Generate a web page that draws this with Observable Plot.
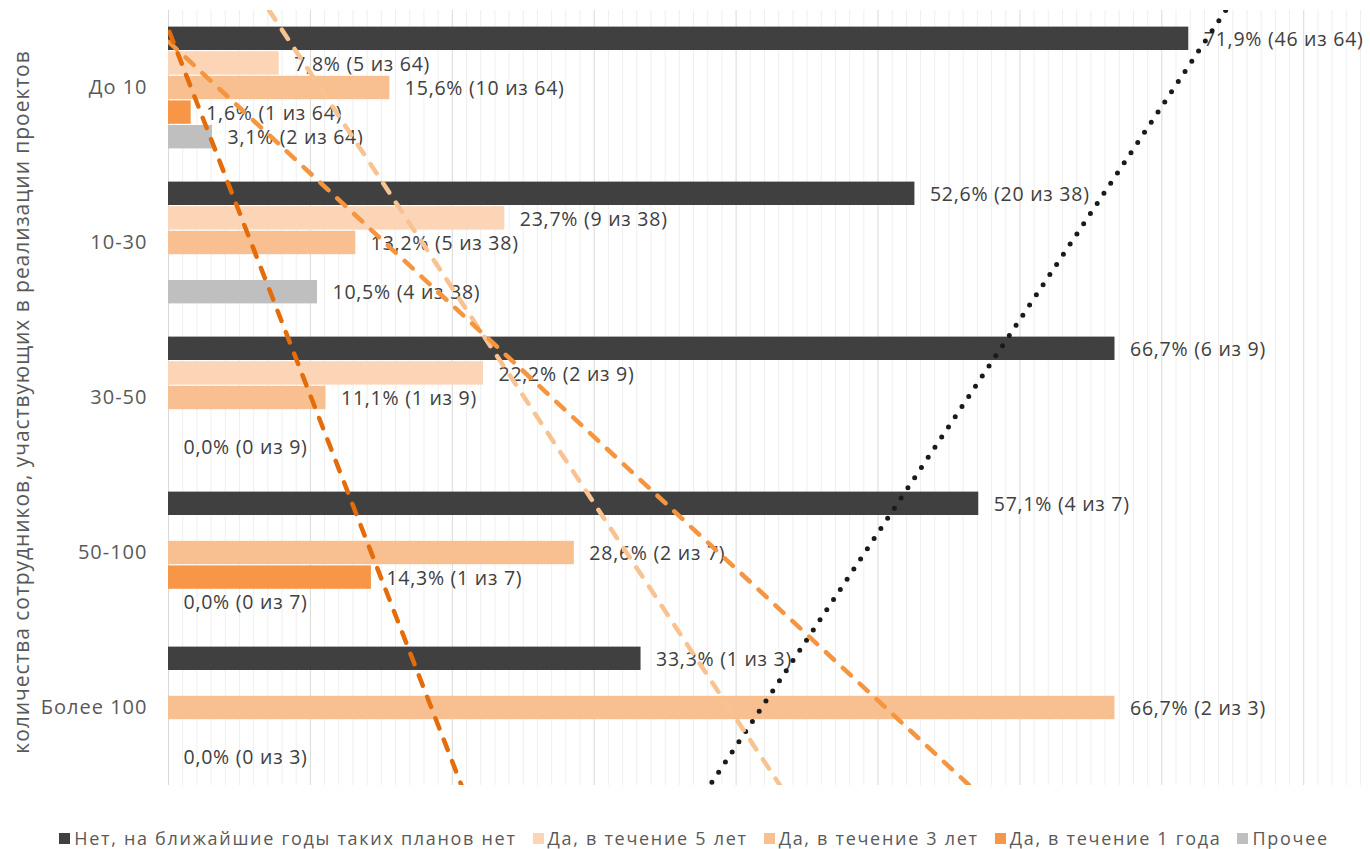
<!DOCTYPE html>
<html>
<head>
<meta charset="utf-8">
<script src="https://cdn.jsdelivr.net/npm/d3@7"></script>
<script src="https://cdn.jsdelivr.net/npm/@observablehq/plot@0.6"></script>
<style>
  body { margin: 0; background: #fff; font-family: "Open Sans", sans-serif; }
  #chart svg { display: block; }
  #chart g[aria-description="values"] text { letter-spacing: 0.75px; }
  #chart g[aria-description="title"] text { letter-spacing: 0.95px; }
  #chart g[aria-label="y-axis tick label"] text { letter-spacing: 1px; }
  #legend {
    display: flex; justify-content: center; align-items: center;
    margin-top: 26px; margin-left: 18px;
    font-size: 18px; color: #595959; letter-spacing: 1.7px; white-space: nowrap;
  }
  #legend .item { display: flex; align-items: center; margin: 0 8px; }
  #legend .sw { width: 11px; height: 11px; margin-right: 4px; }
</style>
</head>
<body>
<div id="chart"></div>
<div id="legend"></div>
<script>
// Company size groups (number of employees involved in projects)
const categories = ["До 10", "10-30", "30-50", "50-100", "Более 100"];
const totals = [64, 38, 9, 7, 3];

const seriesNames = [
  "Нет, на ближайшие годы таких планов нет",
  "Да, в течение 5 лет",
  "Да, в течение 3 лет",
  "Да, в течение 1 года",
  "Прочее"
];
const seriesColors = ["#404040", "#FBD5B5", "#F8C090", "#F79646", "#BFBFBF"];
const trendColors = ["#1a1a1a", "#F9C291", "#F5953F", "#E46C0A", null];

// Shares (%) and respondent counts per group; null = no answer in that group
const pctNo    = [71.9, 52.6, 66.7, 57.1, 33.3];
const cntNo    = [46, 20, 6, 4, 1];
const pct5y    = [7.8, 23.7, 22.2, null, null];
const cnt5y    = [5, 9, 2, null, null];
const pct3y    = [15.6, 13.2, 11.1, 28.6, 66.7];
const cnt3y    = [10, 5, 1, 2, 2];
const pct1y    = [1.6, null, null, 14.3, null];
const cnt1y    = [1, null, null, 1, null];
const pctOther = [3.1, 10.5, 0.0, 0.0, 0.0];
const cntOther = [2, 4, 0, 0, 0];

const pcts = [pctNo, pct5y, pct3y, pct1y, pctOther];
const cnts = [cntNo, cnt5y, cnt3y, cnt1y, cntOther];

const axisTitle = "количества сотрудников, участвующих в реализации проектов";

// Bars within a group: each series gets one slot of the category band
const slot = 0.1587;
const rows = [];
categories.forEach((cat, i) => {
  pcts.forEach((arr, k) => {
    const v = arr[i];
    if (v == null) return;
    const c = i + 1 + (k - 2) * slot;
    rows.push({
      series: k,
      value: v,
      y1: c - slot / 2,
      y2: c + slot / 2,
      yc: c,
      label: v.toFixed(1).replace(".", ",") + "% (" + cnts[k][i] + " из " + totals[i] + ")"
    });
  });
});

// Linear trendlines (value as a function of group index) over the whole band range
const yLo = 0.5, yHi = categories.length + 0.5;
const trends = [];
pcts.forEach((arr, k) => {
  if (!trendColors[k]) return;
  const pts = arr.map((v, i) => [i + 1, v]).filter(d => d[1] != null);
  const mx = d3.mean(pts, d => d[0]), my = d3.mean(pts, d => d[1]);
  const b = d3.sum(pts, d => (d[0] - mx) * (d[1] - my)) / d3.sum(pts, d => (d[0] - mx) ** 2);
  const a = my - b * mx;
  trends.push({k, pts: [{y: yLo, x: a + b * yLo}, {y: yHi, x: a + b * yHi}]});
});

const xMax = 84;
const minorTicks = d3.range(0, xMax + 1, 1).filter(t => t % 10 !== 0);
const majorTicks = d3.range(0, xMax + 1, 10);

const marks = [
  Plot.ruleX(minorTicks, {stroke: "#EFEFEF", strokeWidth: 1}),
  Plot.ruleX(majorTicks, {stroke: "#D9D9D9", strokeWidth: 1}),
  Plot.rectX(rows, {
    x1: 0, x2: "value", y1: "y1", y2: "y2",
    fill: d => seriesColors[d.series],
    insetTop: 0.6, insetBottom: 0.6
  }),
  Plot.text(rows, {
    x: "value", y: "yc", text: "label",
    textAnchor: "start", dx: 15, dy: 1,
    fill: "#404040", fontSize: 19.5, fontFamily: "Open Sans",
    ariaDescription: "values"
  }),
  ...trends.map(t => Plot.line(t.pts, {
    x: "x", y: "y", clip: true,
    stroke: trendColors[t.k],
    strokeWidth: t.k === 0 ? 5 : 4.5,
    strokeDasharray: t.k === 0 ? "0 12.2" : "11 12",
    strokeLinecap: "round"
  })),
  Plot.axisY({
    ticks: d3.range(1, categories.length + 1),
    tickFormat: i => categories[i - 1],
    tickSize: 0, tickPadding: 21, label: null,
    fontSize: 20, fill: "#595959", fontFamily: "Open Sans"
  }),
  Plot.text([axisTitle], {
    frameAnchor: "left", textAnchor: "middle", rotate: -90, dx: -146, dy: 4,
    fontSize: 21, fill: "#595959", fontFamily: "Open Sans",
    ariaDescription: "title"
  })
];

const chart = Plot.plot({
  width: 1370,
  height: 800,
  marginTop: 10,
  marginBottom: 15,
  marginLeft: 168,
  marginRight: 10,
  style: {fontFamily: "Open Sans", background: "#fff"},
  x: {domain: [0, xMax], axis: null},
  y: {type: "linear", domain: [yLo, yHi], reverse: true, axis: null},
  marks
});
document.getElementById("chart").appendChild(chart);

// Legend below the chart
const legend = document.getElementById("legend");
seriesNames.forEach((name, k) => {
  const item = document.createElement("div");
  item.className = "item";
  const sw = document.createElement("span");
  sw.className = "sw";
  sw.style.background = seriesColors[k];
  const tx = document.createElement("span");
  tx.textContent = name;
  item.appendChild(sw);
  item.appendChild(tx);
  legend.appendChild(item);
});
</script>
</body>
</html>
